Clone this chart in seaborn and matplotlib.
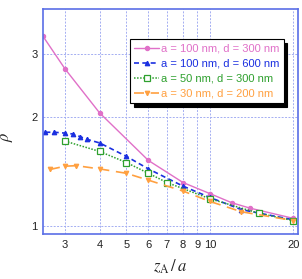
import matplotlib
matplotlib.use("Agg")
import matplotlib.pyplot as plt
import seaborn as sns
import numpy as np
import pandas as pd

# ---- data ----
labels = ["a = 100 nm, d = 300 nm", "a = 100 nm, d = 600 nm",
          "a = 50 nm, d = 300 nm", "a = 30 nm, d = 200 nm"]
x_pink = [2.5, 3, 4, 6, 8, 10, 12, 14, 20]
y_pink = [3.36, 2.73, 2.06, 1.52, 1.32, 1.23, 1.16, 1.12, 1.05]
x_blue = [2.55, 2.75, 3, 3.2, 3.4, 3.6, 4, 5, 6, 8, 10, 13, 20]
y_blue = [1.82, 1.82, 1.81, 1.80, 1.77, 1.74, 1.70, 1.56, 1.44, 1.29, 1.20, 1.11, 1.04]
x_green = [3, 4, 5, 6, 7, 10, 15, 20]
y_green = [1.72, 1.61, 1.50, 1.40, 1.32, 1.19, 1.085, 1.035]
x_orange = [2.65, 3, 3.3, 4, 5, 6, 8, 10, 13, 20]
y_orange = [1.435, 1.465, 1.47, 1.44, 1.40, 1.34, 1.25, 1.17, 1.095, 1.035]
xticks = [3, 4, 5, 6, 7, 8, 9, 10, 20]
yticks = [1, 2, 3]

sns.set_style("white")
plt.rcParams['font.family'] = ['Liberation Sans', 'DejaVu Sans']
plt.rcParams['mathtext.fontset'] = 'stix'

fig = plt.figure(figsize=(3.02, 2.79), dpi=100)
ax = fig.add_axes([43/302, 1-234/279, 255/302, 225/279])

series = [
    (x_pink, y_pink, "#e070c8", "o", "-", 3.0, True, 1.0),
    (x_blue, y_blue, "#1a2fe0", "^", (0, (3, 2)), 3.2, True, 1.2),
    (x_green, y_green, "#2ea02e", "s", (0, (1, 1)), 5.0, False, 1.1),
    (x_orange, y_orange, "#ffa040", "v", (0, (6, 4)), 3.2, True, 1.2),
]
for (xs, ys, c, m, ls, ms, filled, lw), lab in zip(series, labels):
    df = pd.DataFrame({"x": xs, "y": ys})
    sns.lineplot(data=df, x="x", y="y", ax=ax, color=c, marker=m,
                 markersize=ms, linestyle=ls, linewidth=lw,
                 markerfacecolor=(c if filled else "white"),
                 markeredgecolor=c, markeredgewidth=0.9,
                 label=lab, clip_on=True)

ax.set_xscale("log")
ax.set_yscale("log")
ax.set_xlim(2.5, 20.8)
ax.set_ylim(0.95, 4.0)
ax.set_xticks(xticks)
ax.set_xticklabels([str(t) for t in xticks])
ax.set_yticks(yticks)
ax.set_yticklabels([str(t) for t in yticks])
ax.xaxis.set_minor_locator(matplotlib.ticker.NullLocator())
ax.yaxis.set_minor_locator(matplotlib.ticker.NullLocator())

spine_c = "#5a6ee6"
for s in ax.spines.values():
    s.set_color(spine_c)
    s.set_linewidth(1.2)
ax.tick_params(direction="in", length=4, color=spine_c, labelsize=8,
               labelcolor="#222222", pad=4)
ax.grid(True, which="major", color="#a4aef2", linestyle=(0, (2, 1.5)), linewidth=0.7)

ax.set_xlabel(r"$z_{\mathrm{A}}\,/\,a$", fontsize=12, labelpad=6)
ax.set_ylabel(r"$\rho$", fontsize=12)
ax.yaxis.set_label_coords(-0.11, 0.43)

leg = ax.legend(loc="upper right", bbox_to_anchor=(0.945, 0.865), fontsize=8,
                frameon=True, fancybox=False, framealpha=1, edgecolor="black",
                shadow={"color": "black", "alpha": 1, "ox": 2.5, "oy": -2.5},
                handlelength=2.2, handletextpad=0.2, labelspacing=0.45,
                borderpad=0.4, borderaxespad=0)
leg.get_frame().set_linewidth(0.8)
for txt, s in zip(leg.get_texts(), series):
    txt.set_color(s[2])

fig.savefig("out.png", dpi=100)
